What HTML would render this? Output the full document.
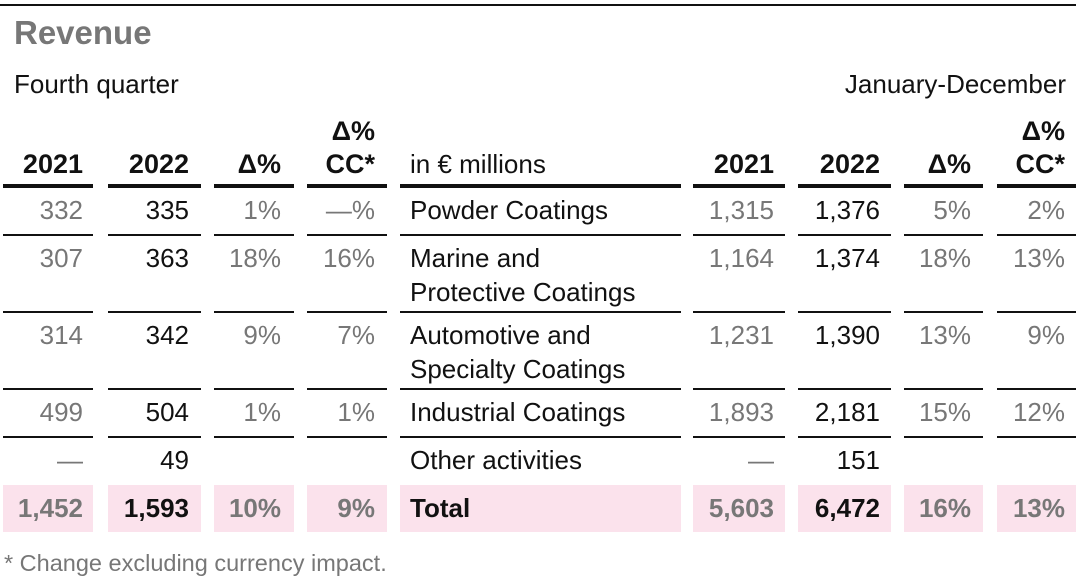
<!DOCTYPE html>
<html><head><style>
body{margin:0;width:1080px;height:578px;background:#fff;font-family:"Liberation Sans",Arial,sans-serif;position:relative;overflow:hidden}
div{position:absolute}
.t{height:30px;line-height:30px;font-size:26px;white-space:nowrap}
.r{text-align:right}
.g{color:#777}.k{color:#111}
.b{font-weight:bold}
.ln{height:2px;background:#111}
.hl{height:4px;background:#111}
.p{background:#fbe2ec;top:485px;height:47px}
</style></head><body>
<div style="left:0;top:4px;width:1076px;height:2px;background:#111"></div>
<div class="t b" style="left:14px;top:18px;font-size:33px;color:#777">Revenue</div>
<div class="t k" style="left:14px;top:69px">Fourth quarter</div>
<div class="t k r" style="left:700px;width:366px;top:69px">January-December</div>

<div class="p" style="left:3px;width:90px"></div>
<div class="p" style="left:108px;width:93px"></div>
<div class="p" style="left:214px;width:80px"></div>
<div class="p" style="left:307px;width:80px"></div>
<div class="p" style="left:400px;width:281px"></div>
<div class="p" style="left:693px;width:92px"></div>
<div class="p" style="left:798px;width:93px"></div>
<div class="p" style="left:904px;width:79px"></div>
<div class="p" style="left:997px;width:79px"></div>

<div id="lines"></div>
<script>
var cols=[[3,90],[108,93],[214,80],[307,80],[400,281],[693,92],[798,93],[904,79],[997,79]];
var h='';
cols.forEach(function(c){
 h+='<div class="hl" style="left:'+c[0]+'px;width:'+c[1]+'px;top:184px"></div>';
 [234,311,388,436].forEach(function(y){h+='<div class="ln" style="left:'+c[0]+'px;width:'+c[1]+'px;top:'+y+'px"></div>';});
});
var R=[83,189,281,375,null,774,880,971,1065];
function cell(i,y,txt,cls,fs){
 var f=fs?';font-size:'+fs+'px':'';
 if(i==4){h+='<div class="t '+cls+'" style="left:410px;top:'+y+'px'+f+'">'+txt+'</div>';}
 else h+='<div class="t r '+cls+'" style="left:'+(R[i]-120)+'px;width:120px;top:'+y+'px'+f+'">'+txt+'</div>';
}
var hdr=['2021','2022','Δ%','CC*','in € millions','2021','2022','Δ%','CC*'];
hdr.forEach(function(t,i){cell(i,149,t,i==4?'k':'k b',i==4?26:27);});
cell(3,116,'Δ%','k b',27);cell(8,116,'Δ%','k b',27);
var rows=[
[195,['332','335','1%','—%','Powder Coatings','1,315','1,376','5%','2%']],
[243,['307','363','18%','16%','Marine and','1,164','1,374','18%','13%']],
[320,['314','342','9%','7%','Automotive and','1,231','1,390','13%','9%']],
[397,['499','504','1%','1%','Industrial Coatings','1,893','2,181','15%','12%']],
[445,['—','49','','','Other activities','—','151','','']],
[493,['1,452','1,593','10%','9%','Total','5,603','6,472','16%','13%']]
];
rows.forEach(function(r,ri){
 r[1].forEach(function(t,i){
  var cls=(i==1||i==4||i==6)?'k':'g';
  if(ri==5)cls+=' b';
  cell(i,r[0],t,cls);
 });
});
cell(4,277,'Protective Coatings','k');
cell(4,354,'Specialty Coatings','k');
document.getElementById('lines').outerHTML=h;
</script>
<div class="t g" style="left:4px;top:548px;font-size:23.5px">* Change excluding currency impact.</div>
</body></html>
